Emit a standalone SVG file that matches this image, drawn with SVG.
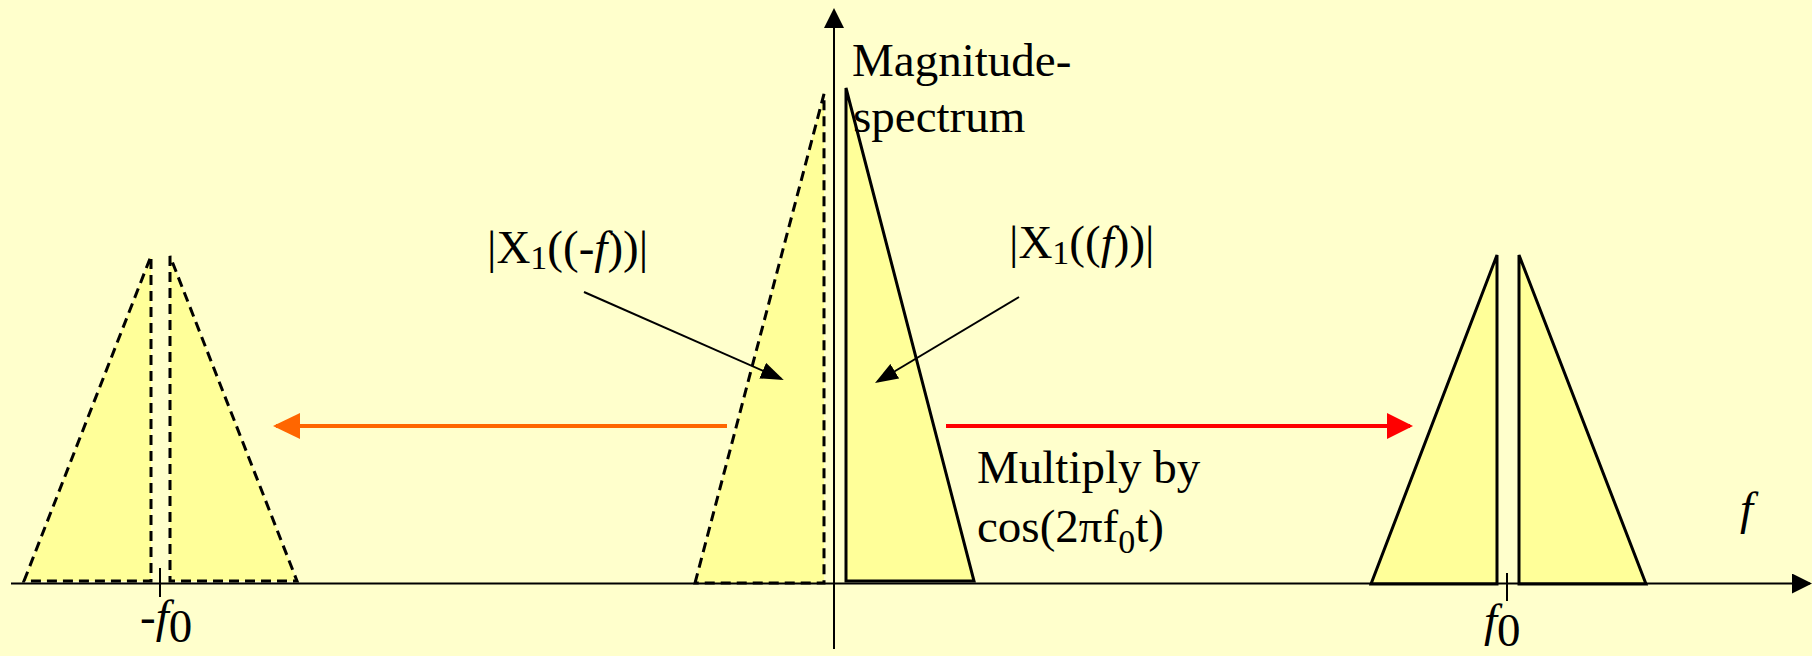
<svg xmlns="http://www.w3.org/2000/svg" width="1812" height="656" viewBox="0 0 1812 656">
<style>
.bg{fill:#FFFFCC}
.tri{fill:#FFFF99;stroke:#000;stroke-width:3;stroke-linejoin:miter}
.dash{stroke-dasharray:10 6}
.axis{stroke:#000;stroke-width:2;fill:none}
.ptr{stroke:#000;stroke-width:2;fill:none}
.t{font-family:"Liberation Serif","Times New Roman",serif;font-size:47px;fill:#000}
.it{font-style:italic}
.sub{font-size:34px}
</style>
<defs>
<marker id="ahBlack" markerUnits="userSpaceOnUse" markerWidth="23" markerHeight="17" viewBox="0 0 23 17" refX="20" refY="8.5" orient="auto">
<path d="M0,0 L23,8.5 L0,17 Z" fill="#000"/>
</marker>
<marker id="ahOrange" markerUnits="userSpaceOnUse" markerWidth="27" markerHeight="26" viewBox="0 0 27 26" refX="24" refY="13" orient="auto">
<path d="M0,0 L27,13 L0,26 Z" fill="#FF6600"/>
</marker>
<marker id="ahRed" markerUnits="userSpaceOnUse" markerWidth="26" markerHeight="26" viewBox="0 0 26 26" refX="23" refY="13" orient="auto">
<path d="M0,0 L26,13 L0,26 Z" fill="#FF0000"/>
</marker>
<marker id="ahAxis" markerUnits="userSpaceOnUse" markerWidth="20" markerHeight="20" viewBox="0 0 20 20" refX="18" refY="10" orient="auto">
<path d="M0,0 L20,10 L0,20 Z" fill="#000"/>
</marker>
</defs>
<rect class="bg" x="0" y="0" width="1812" height="656"/>

<g id="spectrum-neg-f0">
<polygon class="tri dash" points="24,581 151,256 151,581"/>
<polygon class="tri dash" points="170,256 170,581 297,581"/>
</g>

<g id="spectrum-center">
<polygon class="tri dash" points="695,583 824,94 824,583"/>
<polygon class="tri" points="846,88 846,581 974,581"/>
</g>

<g id="spectrum-pos-f0">
<polygon class="tri" points="1371,584 1497,255 1497,584"/>
<polygon class="tri" points="1519,255 1519,584 1646,584"/>
</g>

<g id="axes">
<line class="axis" x1="11" y1="583.5" x2="1810" y2="583.5" marker-end="url(#ahAxis)"/>
<line class="axis" x1="834" y1="649" x2="834" y2="10" marker-end="url(#ahAxis)"/>
<line class="axis" x1="160" y1="568" x2="160" y2="597"/>
<line class="axis" x1="1507" y1="573" x2="1507" y2="601"/>
</g>

<g id="connectors">
<line x1="727" y1="426" x2="276" y2="426" stroke="#FF6600" stroke-width="4" marker-end="url(#ahOrange)"/>
<line x1="946" y1="426" x2="1410" y2="426" stroke="#FF0000" stroke-width="4" marker-end="url(#ahRed)"/>
<line class="ptr" x1="584" y1="292" x2="781" y2="378.7" marker-end="url(#ahBlack)"/>
<line class="ptr" x1="1019" y1="297" x2="877.6" y2="381.5" marker-end="url(#ahBlack)"/>
</g>

<g id="labels">
<text class="t" x="852" y="76">Magnitude-</text>
<text class="t" x="853" y="132">spectrum</text>
<text class="t" x="487" y="263">|X<tspan class="sub" dy="6">1</tspan><tspan dy="-6">((-</tspan><tspan class="it">f</tspan>))|</text>
<text class="t" x="1009" y="258">|X<tspan class="sub" dy="6">1</tspan><tspan dy="-6">((</tspan><tspan class="it">f</tspan>))|</text>
<text class="t" x="977" y="483">Multiply by</text>
<text class="t" x="977" y="542">cos(2πf<tspan class="sub" dy="11">0</tspan><tspan dy="-11">t)</tspan></text>
<text class="t it" x="1740" y="524">f</text>
<text class="t" x="140" y="632">-<tspan class="it">f</tspan><tspan dy="10">0</tspan></text>
<text class="t" x="1484" y="636"><tspan class="it">f</tspan><tspan dy="10">0</tspan></text>
</g>
</svg>
